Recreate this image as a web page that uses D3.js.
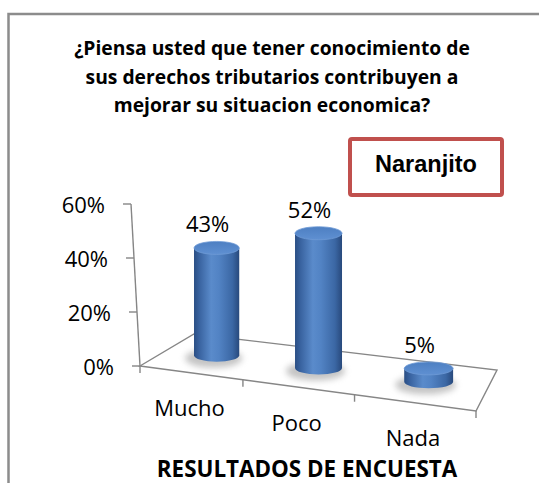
<!DOCTYPE html>
<html>
<head>
<meta charset="utf-8">
<script src="https://cdnjs.cloudflare.com/ajax/libs/d3/7.8.5/d3.min.js"></script>
<style>
  body { margin: 0; background: #fff; }
</style>
</head>
<body>
<div id="chartDiv"></div>
<script>
  const titleLines = ['¿Piensa usted que tener conocimiento de',
                      'sus derechos tributarios contribuyen a',
                      'mejorar su situacion economica?'];
  const categories = ['Mucho', 'Poco', 'Nada'];
  const values = [0.43, 0.52, 0.05];
  const yTicks = [0, 0.2, 0.4, 0.6];
  const legendLabel = 'Naranjito';
  const xTitle = 'RESULTADOS DE ENCUESTA';

  const width = 539, height = 483;

  // floor corners (front-left, front-right, back-right, back-left)
  const FL = [140, 366], FR = [476, 411], BR = [497, 370], BL = [194, 334];

  // square -> quad perspective mapping
  const H = (() => {
    const [x0, y0] = FL, [x1, y1] = FR, [x2, y2] = BR, [x3, y3] = BL;
    const dx1 = x1 - x2, dx2 = x3 - x2, dx3 = x0 - x1 + x2 - x3;
    const dy1 = y1 - y2, dy2 = y3 - y2, dy3 = y0 - y1 + y2 - y3;
    const den = dx1 * dy2 - dx2 * dy1;
    const g = (dx3 * dy2 - dx2 * dy3) / den;
    const h = (dx1 * dy3 - dx3 * dy1) / den;
    return {
      a: x1 - x0 + g * x1, b: x3 - x0 + h * x3, c: x0,
      d: y1 - y0 + g * y1, e: y3 - y0 + h * y3, f: y0, g, h
    };
  })();
  const project = (u, v) => {
    const w = H.g * u + H.h * v + 1;
    return { x: (H.a * u + H.b * v + H.c) / w, y: (H.d * u + H.e * v + H.f) / w, w };
  };

  const xBand = d3.scaleBand().domain(categories).range([0, 1]);
  const yScale = d3.scaleLinear().domain([0, 0.6]).range([0, 162]);
  const depth = 0.5;

  const svg = d3.select('#chartDiv').append('svg')
    .attr('width', width).attr('height', height)
    .style('font-family', '"Open Sans", sans-serif');

  const defs = svg.append('defs');
  const bodyGrad = defs.append('linearGradient').attr('id', 'cylBody');
  [['0%', '#2a4e84'], ['12%', '#3963a0'], ['38%', '#5a8bcb'], ['55%', '#5283c4'],
   ['85%', '#3b67a4'], ['100%', '#28497c']].forEach(s =>
    bodyGrad.append('stop').attr('offset', s[0]).attr('stop-color', s[1]));
  const capGrad = defs.append('linearGradient').attr('id', 'cylTop')
    .attr('x1', 0).attr('y1', 0).attr('x2', 0).attr('y2', 1);
  [['0%', '#4d7fc2'], ['100%', '#5f90d2']].forEach(s =>
    capGrad.append('stop').attr('offset', s[0]).attr('stop-color', s[1]));
  defs.append('filter').attr('id', 'blur').attr('x', '-50%').attr('y', '-50%')
    .attr('width', '200%').attr('height', '200%')
    .append('feGaussianBlur').attr('stdDeviation', 3);

  // outer frame
  svg.append('path')
    .attr('d', `M8.5,${height} L8.5,14 L${width},14`)
    .attr('fill', 'none').attr('stroke', '#8c8c8c').attr('stroke-width', 2.5);

  // title
  svg.append('g').selectAll('text').data(titleLines).enter().append('text')
    .attr('x', 272).attr('y', (d, i) => 55 + i * 28.5)
    .attr('text-anchor', 'middle')
    .attr('font-size', 19.3).attr('font-weight', 'bold').attr('fill', '#000')
    .text(d => d);

  // legend box
  svg.append('rect')
    .attr('x', 350).attr('y', 139).attr('width', 152).attr('height', 56)
    .attr('rx', 2).attr('fill', '#fff')
    .attr('stroke', '#c0504d').attr('stroke-width', 4);
  svg.append('text')
    .attr('x', 426).attr('y', 172).attr('text-anchor', 'middle')
    .attr('font-family', '"Liberation Sans", Arial, sans-serif')
    .attr('font-size', 23.5).attr('font-weight', 'bold').attr('fill', '#000')
    .text(legendLabel);

  // floor
  const floorG = svg.append('g').attr('fill', 'none').attr('stroke', '#868686').attr('stroke-width', 1.4);
  floorG.append('path').attr('d', 'M' + [FL, FR, BR, BL].join('L') + 'Z');
  const bounds = [0, xBand.bandwidth(), 2 * xBand.bandwidth(), 1];
  bounds.forEach(u => {
    const p = project(u, 0);
    floorG.append('line').attr('x1', p.x).attr('y1', p.y).attr('x2', p.x).attr('y2', p.y + 7);
  });

  // value axis
  const axisX = v => FL[0] - (v / 0.6) * 9;
  const axisY = v => FL[1] - yScale(v);
  const axisG = svg.append('g');
  axisG.append('line')
    .attr('x1', axisX(0)).attr('y1', axisY(0)).attr('x2', axisX(0.6)).attr('y2', axisY(0.6))
    .attr('stroke', '#868686').attr('stroke-width', 1.4);
  axisG.selectAll('.tick').data(yTicks).enter().append('line')
    .attr('x1', d => axisX(d) - 8).attr('x2', d => axisX(d))
    .attr('y1', d => axisY(d)).attr('y2', d => axisY(d))
    .attr('stroke', '#868686').attr('stroke-width', 1.4);
  axisG.selectAll('text').data(yTicks).enter().append('text')
    .attr('x', d => axisX(d) - 26).attr('y', d => axisY(d) + 9)
    .attr('text-anchor', 'end').attr('font-size', 22).attr('fill', '#000')
    .text(d => Math.round(d * 100) + '%');

  // cylinders
  const bars = categories.map((c, i) => {
    const p = project(xBand(c) + xBand.bandwidth() / 2, depth);
    const rx = 23.5 / p.w, ry = 6.5;
    const h = yScale(values[i]) * 0.96 / p.w;
    return { c, v: values[i], cx: p.x, base: p.y, topY: p.y - h, rx, ry };
  });

  const barG = svg.append('g');
  barG.selectAll('.shadow').data(bars).enter().append('ellipse')
    .attr('cx', d => d.cx - 3).attr('cy', d => d.base + 3)
    .attr('rx', d => d.rx + 6).attr('ry', d => d.ry + 3)
    .attr('fill', '#8a8a8a').attr('opacity', 0.5).attr('filter', 'url(#blur)');
  barG.selectAll('.body').data(bars).enter().append('path')
    .attr('d', d => `M${d.cx - d.rx},${d.topY} L${d.cx - d.rx},${d.base}
      A${d.rx},${d.ry} 0 0 0 ${d.cx + d.rx},${d.base} L${d.cx + d.rx},${d.topY} Z`)
    .attr('fill', 'url(#cylBody)');
  barG.selectAll('.top').data(bars).enter().append('ellipse')
    .attr('cx', d => d.cx).attr('cy', d => d.topY)
    .attr('rx', d => d.rx).attr('ry', d => d.ry)
    .attr('fill', 'url(#cylTop)').attr('stroke', '#6f9bd6').attr('stroke-width', 0.8);

  // data labels
  svg.append('g').selectAll('text').data(bars).enter().append('text')
    .attr('x', d => d.cx - 9).attr('y', d => d.topY - d.ry - 9)
    .attr('text-anchor', 'middle').attr('font-size', 22).attr('fill', '#000')
    .text(d => Math.round(d.v * 100) + '%');

  // category labels
  svg.append('g').selectAll('text').data(categories).enter().append('text')
    .attr('x', d => project(xBand(d) + xBand.bandwidth() / 2, 0).x - 1)
    .attr('y', d => project(xBand(d) + xBand.bandwidth() / 2, 0).y + 43.5)
    .attr('text-anchor', 'middle').attr('font-size', 22).attr('fill', '#000')
    .text(d => d);

  svg.append('text')
    .attr('x', 307).attr('y', 477).attr('text-anchor', 'middle')
    .attr('font-size', 22.4).attr('font-weight', 'bold').attr('fill', '#000')
    .text(xTitle);
</script>
</body>
</html>
